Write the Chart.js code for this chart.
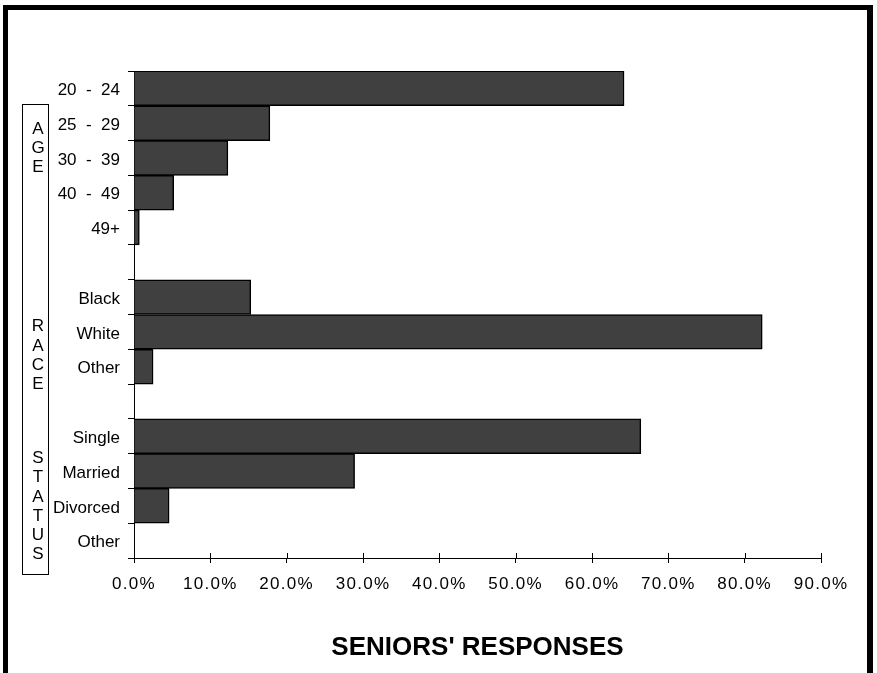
<!DOCTYPE html>
<html>
<head>
<meta charset="utf-8">
<title>Seniors' Responses</title>
<script src="https://cdn.jsdelivr.net/npm/chart.js@4/dist/chart.umd.min.js"></script>
<style>
  html, body { margin: 0; padding: 0; background: #ffffff; }
  canvas { display: block; }
</style>
</head>
<body>
<canvas id="chart" width="877" height="673"></canvas>
<script>
// Survey shares (percent of seniors), one array per group
const ageLabels = ['20  -  24', '25  -  29', '30  -  39', '40  -  49', '49+'];
const ageShares = [64.2, 17.8, 12.3, 5.2, 0.7];

const raceLabels = ['Black', 'White', 'Other'];
const raceShares = [15.3, 82.3, 2.5];

const statusLabels = ['Single', 'Married', 'Divorced', 'Other'];
const statusShares = [66.4, 28.9, 4.6, 0];

const groupNames = ['AGE', 'RACE', 'STATUS'];
const axisMax = 90;
const axisStep = 10;

// One blank row separates each group
const categories = [...ageLabels, '', ...raceLabels, '', ...statusLabels];
const shares = [...ageShares, null, ...raceShares, null, ...statusShares];

const FONT = '"Liberation Sans", Arial, Helvetica, sans-serif';
const TITLE_PAD = 10;
const TITLE_SIZE = 26;
const TITLE_BOX = TITLE_SIZE * 1.2 + TITLE_PAD * 2;

// Frame, vertical group captions and the inner halves of the x ticks
const decorations = {
  id: 'decorations',
  beforeDraw(chart) {
    const ctx = chart.ctx;
    ctx.save();
    ctx.fillStyle = '#000';
    ctx.fillRect(3, 5, 870, 5);     // top edge
    ctx.fillRect(3, 5, 5, 668);     // left edge
    ctx.fillRect(867, 5, 6, 668);   // right edge
    ctx.restore();
  },
  afterDatasetsDraw(chart) {
    // spaced lettering for the percentage labels (x axis drawn after the bars)
    if ('letterSpacing' in chart.ctx) chart.ctx.letterSpacing = '1.3px';
  },
  afterDraw(chart) {
    const ctx = chart.ctx;
    if ('letterSpacing' in ctx) ctx.letterSpacing = '0px';
    const x = chart.scales.x;
    const y = chart.scales.y;
    const area = chart.chartArea;
    ctx.save();
    ctx.strokeStyle = '#000';
    ctx.lineWidth = 1;
    ctx.beginPath();
    x.ticks.forEach(t => {
      const px = Math.round(x.getPixelForValue(t.value)) + 0.5;
      ctx.moveTo(px, area.bottom - 5);
      ctx.lineTo(px, area.bottom);
    });
    ctx.stroke();

    // caption box
    ctx.strokeRect(22.5, 104.5, 26, 470);

    // stacked letters for each group caption
    const centers = [1.73, 7.68, 12.02];
    ctx.fillStyle = '#000';
    ctx.font = '17px ' + FONT;
    ctx.textAlign = 'center';
    ctx.textBaseline = 'middle';
    groupNames.forEach((name, g) => {
      const mid = y.getPixelForValue(centers[g]);
      const letters = name.split('');
      letters.forEach((ch, k) => {
        ctx.fillText(ch, 38, mid + (k - (letters.length - 1) / 2) * 19.2);
      });
    });
    ctx.restore();
  }
};

new Chart(document.getElementById('chart'), {
  type: 'bar',
  data: {
    labels: categories,
    datasets: [{
      data: shares,
      backgroundColor: '#404040',
      borderColor: '#000000',
      borderWidth: 1.5,
      barPercentage: 1,
      categoryPercentage: 1
    }]
  },
  options: {
    responsive: false,
    animation: false,
    indexAxis: 'y',
    layout: { padding: { top: 71, right: 56, bottom: 0, left: 0 } },
    plugins: {
      legend: { display: false },
      tooltip: { enabled: false },
      title: {
        display: true,
        text: "SENIORS' RESPONSES",
        position: 'bottom',
        fullSize: false,
        color: '#000',
        font: { family: FONT, size: TITLE_SIZE, weight: 'bold' },
        padding: { top: TITLE_PAD, bottom: TITLE_PAD }
      }
    },
    scales: {
      x: {
        min: 0,
        max: axisMax,
        afterFit(scale) { scale.height = 115 - TITLE_BOX; },
        ticks: {
          stepSize: axisStep,
          autoSkip: false,
          maxRotation: 0,
          padding: 11,
          color: '#000',
          z: 1,
          font: { family: FONT, size: 17 },
          callback: v => Number(v).toFixed(1) + '%'
        },
        grid: { drawOnChartArea: false, tickLength: 5, color: '#000', lineWidth: 1 },
        border: { color: '#000', width: 1 }
      },
      y: {
        afterFit(scale) { scale.width = 134; },
        ticks: {
          autoSkip: false,
          padding: 8,
          labelOffset: 2,
          color: '#000',
          font: { family: FONT, size: 17 }
        },
        grid: { drawOnChartArea: false, tickLength: 6, color: '#000', lineWidth: 1, offset: true },
        border: { color: '#000', width: 1 }
      }
    }
  },
  plugins: [decorations]
});
</script>
</body>
</html>
